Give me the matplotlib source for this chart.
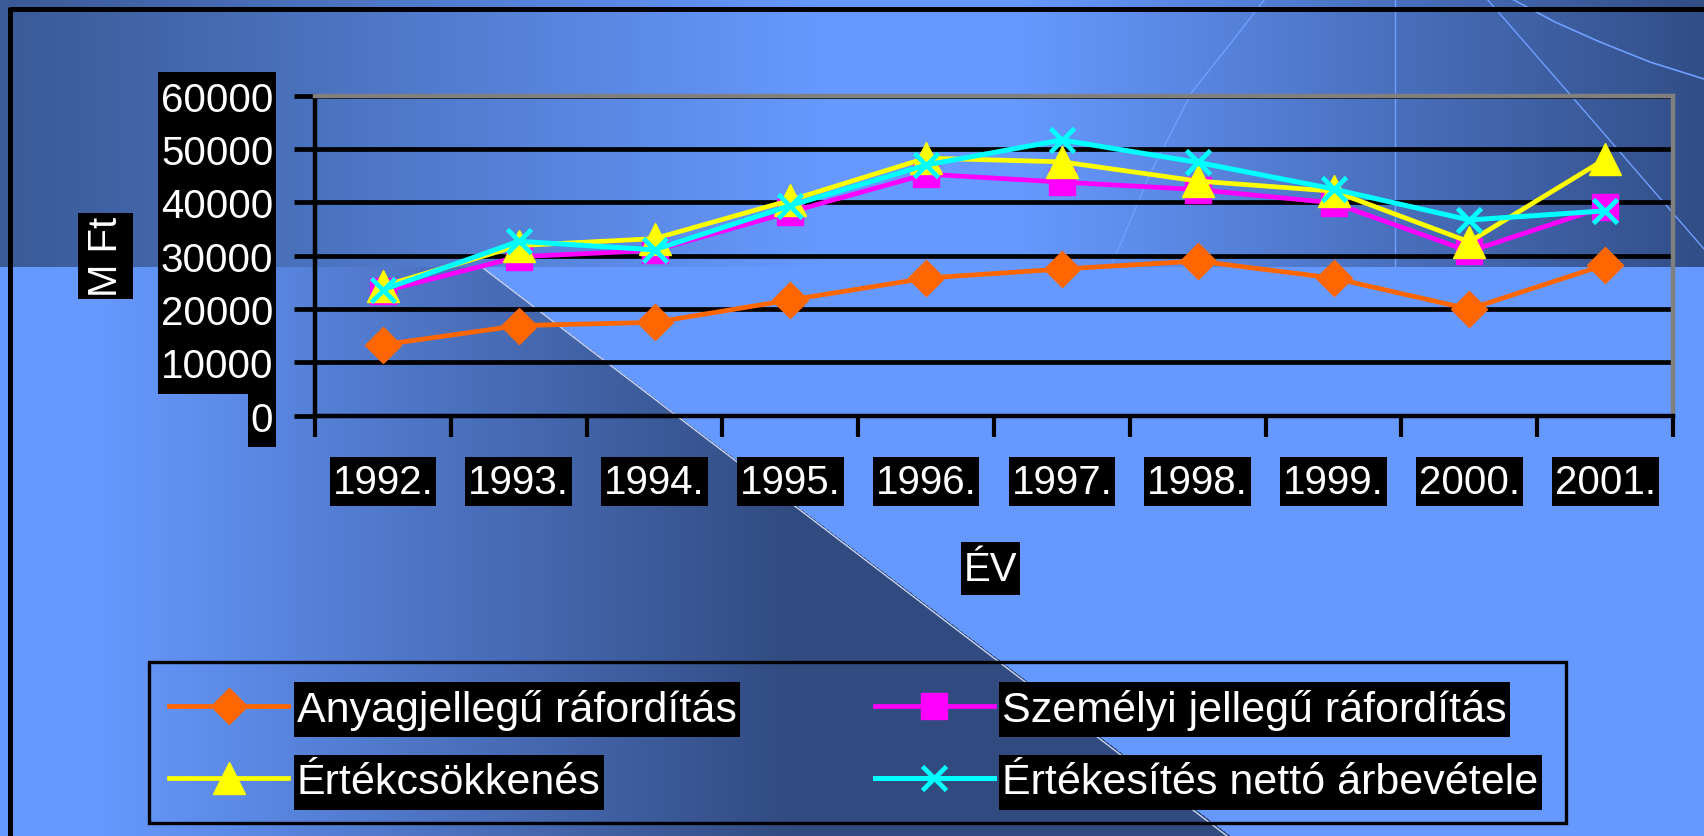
import numpy as np
import matplotlib.pyplot as plt
from matplotlib.lines import Line2D
from matplotlib.patches import Rectangle

plt.rcParams['font.family'] = ['Liberation Sans', 'DejaVu Sans']

years = ['1992.', '1993.', '1994.', '1995.', '1996.', '1997.', '1998.', '1999.', '2000.', '2001.']
anyag = [13300, 16900, 17500, 21700, 25800, 27500, 29000, 25800, 20000, 28300]
szemelyi = [23300, 29800, 31000, 38200, 45300, 43800, 42400, 39900, 30800, 39200]
ertekcs = [24300, 31900, 33200, 40400, 48300, 47600, 44000, 42100, 32600, 48100]
ertekesites = [23600, 32700, 31100, 39400, 47000, 51700, 47500, 42500, 36700, 38400]

names = ['Anyagjellegű ráfordítás', 'Személyi jellegű ráfordítás',
         'Értékcsökkenés', 'Értékesítés nettó árbevétele']

W, H = 1704, 837
fig = plt.figure(figsize=(W / 100, H / 100), dpi=100)

# background: slide gradient + dark wedge
yy, xx = np.mgrid[0:H, 0:W]
light = np.array([102, 153, 255]) / 255
dark_l = np.array([58, 90, 150]) / 255
dark_r = np.array([50, 78, 135]) / 255
dark_w = np.array([49, 74, 127]) / 255
t_left = np.clip(1 - xx / 820, 0, 1)[..., None]
t_right = np.clip((xx - 1020) / 680, 0, 1)[..., None]
top_col = light + (dark_l - light) * t_left + (dark_r - light) * t_right
wedge = (xx < 483 + 1.314 * (yy - 268))[..., None]
t_w = np.clip((xx - 100) / 700, 0, 1)[..., None] * wedge
bot_col = light + (dark_w - light) * t_w
img = np.where((yy < 268)[..., None], top_col, bot_col)

bg = fig.add_axes([0, 0, 1, 1], zorder=-10)
bg.imshow(img, extent=(0, W, H, 0), aspect='auto', interpolation='bilinear')
bg.set_xlim(0, W)
bg.set_ylim(H, 0)
bg.axis('off')
deco = '#6f9fff'
bg.plot([1395, 1395], [0, 268], color=deco, lw=1)
bg.plot([1265, 1230, 1192, 1150, 1111], [0, 45, 93, 175, 267], color=deco, lw=1)
bg.plot([1487, 1574, 1704], [0, 100, 250], color=deco, lw=1)
bg.plot([1512, 1555, 1600, 1650, 1704], [0, 23, 43, 63, 80], color=deco, lw=1.2)
bg.plot([483, 1227], [269, 837], color='#c8d4f0', lw=1)
bg.plot([10, W], [10, 10], color='black', lw=3.6, solid_capstyle='butt')
bg.plot([10, 10], [8, H], color='black', lw=3.6, solid_capstyle='butt')

# chart
ax = fig.add_axes([315 / W, 1 - 416.7 / H, 1358 / W, 320 / H])
ax.set_facecolor('none')
x = np.arange(len(years))
l1, = ax.plot(x, anyag, color='#FF6600', lw=3.4, marker='D', ms=18, zorder=3)
l2, = ax.plot(x, szemelyi, color='#FF00FF', lw=3.4, marker='s', ms=19, zorder=4)
l3, = ax.plot(x, ertekcs, color='#FFFF00', lw=3.4, marker='^', ms=23, zorder=5)
l4, = ax.plot(x, ertekesites, color='#00FFFF', lw=3.6, marker='x', ms=17, mew=3.4, zorder=6)

ax.set_xlim(-0.5, len(years) - 0.5)
ax.set_ylim(0, 60000)
ax.set_yticks(range(0, 60001, 10000))
ax.yaxis.grid(True, color='black', lw=3.4)
ax.set_xticks(np.arange(-0.5, len(years), 1))
ax.set_xticklabels([])
ax.set_xticks(x, minor=True)
ax.set_xticklabels(years, minor=True)
ax.tick_params(axis='x', which='major', length=15, width=3, direction='out', color='black')
ax.tick_params(axis='x', which='minor', length=0, pad=34, labelsize=29, labelcolor='white')
ax.tick_params(axis='y', length=15, width=3.4, direction='out', color='black',
               pad=15, labelsize=29, labelcolor='white')
for s in ['left', 'bottom']:
    ax.spines[s].set_color('black')
    ax.spines[s].set_linewidth(3.2)
for s in ['top', 'right']:
    ax.spines[s].set_color('#808080')
    ax.spines[s].set_linewidth(3.2)

ax.set_xlabel('ÉV', fontsize=29, color='white')
ax.xaxis.set_label_coords(0.4974, -0.479)
ax.xaxis.label.set_va('center')
ax.set_ylabel('M Ft', fontsize=29, color='white')
ax.yaxis.set_label_coords(-0.154, 0.5)
ax.yaxis.label.set_va('center')

leg = fig.legend([l1, l3, l2, l4], [names[0], names[2], names[1], names[3]],
                 ncol=2, loc='upper left', bbox_to_anchor=(169 / W, 1 - 690 / H),
                 frameon=False, fontsize=31, labelcolor='white',
                 handlelength=2.77, handletextpad=0.2, columnspacing=3.2,
                 labelspacing=0.75, borderpad=0, borderaxespad=0)

fig.add_artist(Rectangle((149 / W, 1 - 824 / H), (1566 - 149) / W, 161 / H,
                         transform=fig.transFigure, facecolor='none',
                         edgecolor='black', lw=2.4, zorder=-4))

# black label boxes as on the slide
fig.canvas.draw()
r = fig.canvas.get_renderer()
inv = fig.transFigure.inverted()


def add_box(t, thick=52, pad=3, vertical=False):
    bb = t.get_window_extent(r)
    cx, cy = (bb.x0 + bb.x1) / 2, (bb.y0 + bb.y1) / 2
    if vertical:
        w, h = thick, bb.height + 2 * pad
    else:
        w, h = bb.width + 2 * pad, thick
    x0, y0 = inv.transform((cx - w / 2, cy - h / 2))
    x1, y1 = inv.transform((cx + w / 2, cy + h / 2))
    fig.add_artist(Rectangle((x0, y0), x1 - x0, y1 - y0, transform=fig.transFigure,
                             facecolor='black', edgecolor='none', zorder=-5))


for t in ax.get_yticklabels():
    add_box(t, thick=55)
for t in ax.get_xticklabels(minor=True):
    add_box(t, thick=49)
add_box(ax.xaxis.label, thick=53)
add_box(ax.yaxis.label, thick=55, vertical=True)
for t in leg.get_texts():
    add_box(t, thick=55)

fig.savefig('out.png', dpi=100)
